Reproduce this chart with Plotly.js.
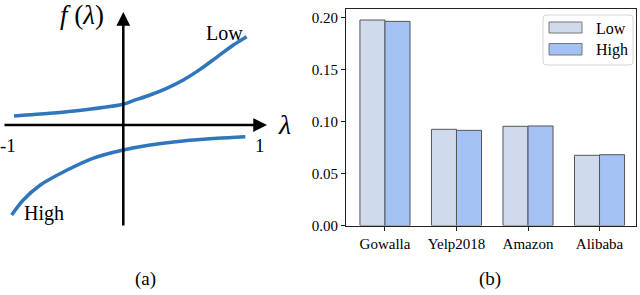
<!DOCTYPE html>
<html>
<head>
<meta charset="utf-8">
<script src="https://cdn.plot.ly/plotly-3.0.1.min.js"></script>
<style>html,body{margin:0;padding:0;background:#fff;}#chart{width:640px;height:295px;}</style>
</head>
<body>
<div id="chart"></div>
<script>
// ---- Panel (b) data ----
const datasets = ["Gowalla", "Yelp2018", "Amazon", "Alibaba"];
const seriesNames = ["Low", "High"];
const lowValues = [0.1976, 0.0925, 0.0954, 0.0675];
const highValues = [0.1963, 0.0915, 0.0957, 0.0681];
const yTickVals = [0.00, 0.05, 0.10, 0.15, 0.20];
const yTickText = ["0.00", "0.05", "0.10", "0.15", "0.20"];

// ---- Panel (a) schematic curves ----
const lowLambda = [-0.896, -0.601, -0.328, 0.0, 0.082, 0.219, 0.355, 0.492, 0.629, 0.765, 0.902, 1.011];
const lowF = [0.074, 0.096, 0.123, 0.170, 0.199, 0.246, 0.301, 0.369, 0.456, 0.555, 0.656, 0.724];
const highLambda = [-0.915, -0.82, -0.68, -0.46, -0.25, 0.0, 0.22, 0.49, 0.77, 1.0];
const highF = [-0.738, -0.615, -0.492, -0.369, -0.273, -0.205, -0.164, -0.131, -0.109, -0.096];
const curveLabels = ["Low", "High"];
const lambdaTickLabels = ["-1", "1"];
const captions = ["(a)", "(b)"];

const W = 640, H = 295;
const px = v => v / W;
const py = v => 1 - v / H;
const SERIF = "Liberation Serif";
const lowColor = "#cfdbec";
const highColor = "#a3c1f3";
const edgeColor = "#555555";
const curveColor = "#2f76bd";

const traces = [
  {type: "bar", x: datasets, y: lowValues, name: seriesNames[0], xaxis: "x", yaxis: "y",
   marker: {color: lowColor, line: {color: edgeColor, width: 1}}, showlegend: false},
  {type: "bar", x: datasets, y: highValues, name: seriesNames[1], xaxis: "x", yaxis: "y",
   marker: {color: highColor, line: {color: edgeColor, width: 1}}, showlegend: false},
  {type: "scatter", mode: "lines", x: lowLambda, y: lowF, xaxis: "x2", yaxis: "y2",
   line: {color: curveColor, width: 3.5, shape: "spline", smoothing: 0.8}, showlegend: false, name: curveLabels[0]},
  {type: "scatter", mode: "lines", x: highLambda, y: highF, xaxis: "x2", yaxis: "y2",
   line: {color: curveColor, width: 3.5, shape: "spline", smoothing: 0.8}, showlegend: false, name: curveLabels[1]}
];

// legend geometry (px)
const legBox = {x0: 543, x1: 633, y0: 15, y1: 65, r: 3};
const patchX0 = 549, patchX1 = 582;
const legRows = [{y0: 22, y1: 33, ty: 28, color: lowColor}, {y0: 43.5, y1: 55, ty: 50, color: highColor}];

function roundedRectPath(b) {
  const x0 = px(b.x0), x1 = px(b.x1), y0 = py(b.y0), y1 = py(b.y1);
  const rx = b.r / W, ry = b.r / H;
  return `M${x0 + rx},${y0} L${x1 - rx},${y0} Q${x1},${y0} ${x1},${y0 - ry} L${x1},${y1 + ry} Q${x1},${y1} ${x1 - rx},${y1} L${x0 + rx},${y1} Q${x0},${y1} ${x0},${y1 + ry} L${x0},${y0 - ry} Q${x0},${y0} ${x0 + rx},${y0} Z`;
}

const shapes = [
  {type: "path", xref: "paper", yref: "paper", path: roundedRectPath(legBox),
   line: {color: "#d4d4d4", width: 1}, fillcolor: "rgba(255,255,255,0.9)"}
];
const annotations = [];
legRows.forEach((r, i) => {
  shapes.push({type: "rect", xref: "paper", yref: "paper", x0: px(patchX0), x1: px(patchX1),
    y0: py(r.y1), y1: py(r.y0), fillcolor: r.color, line: {color: "#777", width: 1}});
  annotations.push({xref: "paper", yref: "paper", x: px(594), y: py(r.ty), xanchor: "left", yanchor: "middle",
    text: seriesNames[i], showarrow: false, font: {family: SERIF, size: 16, color: "#000"}});
});

// Panel (a) axes with arrows
annotations.push({xref: "x2", yref: "y2", axref: "x2", ayref: "y2", x: 1.178, y: 0, ax: -0.986, ay: 0,
  showarrow: true, arrowhead: 2, arrowsize: 1.1, arrowwidth: 2.5, arrowcolor: "#000", text: "", standoff: 0});
annotations.push({xref: "x2", yref: "y2", axref: "x2", ayref: "y2", x: 0, y: 0.926, ax: 0, ay: -0.836,
  showarrow: true, arrowhead: 2, arrowsize: 1.1, arrowwidth: 2.5, arrowcolor: "#000", text: "", standoff: 0});
// Panel (a) text
const txt = (x, y, text, size) => ({xref: "paper", yref: "paper", x: px(x), y: py(y), xanchor: "center", yanchor: "middle",
  text: text, showarrow: false, font: {family: SERIF, size: size, color: "#000"}});
annotations.push(txt(82, 15, "<i>f</i> (<i>λ</i>)", 27));
annotations.push(txt(284, 124, "<i>λ</i>", 28));
annotations.push(txt(224, 33, curveLabels[0], 20));
annotations.push(txt(44, 213, curveLabels[1], 20));
annotations.push(txt(8, 145, lambdaTickLabels[0], 19));
annotations.push(txt(260, 145, lambdaTickLabels[1], 19));
annotations.push(txt(145, 279, captions[0], 19));
annotations.push(txt(490, 279, captions[1], 19));

const tickFont = {family: SERIF, size: 15, color: "#000"};
const layout = {
  width: W, height: H,
  margin: {l: 0, r: 0, t: 0, b: 0, pad: 0},
  paper_bgcolor: "#fff", plot_bgcolor: "#fff",
  barmode: "group", bargap: 0.3, bargroupgap: 0,
  font: {family: SERIF, color: "#000"},
  xaxis: {domain: [px(346), px(636)], range: [-0.545, 3.51], type: "category",
    showline: true, mirror: true, linecolor: "#222", linewidth: 1,
    ticks: "outside", ticklen: 4, tickcolor: "#222", tickwidth: 1,
    showgrid: false, zeroline: false, tickfont: tickFont, anchor: "y"},
  yaxis: {domain: [py(225.5), py(9)], range: [0, 0.2082],
    tickvals: yTickVals, ticktext: yTickText,
    showline: true, mirror: true, linecolor: "#222", linewidth: 1,
    ticks: "outside", ticklen: 4, tickcolor: "#222", tickwidth: 1,
    showgrid: false, zeroline: false, tickfont: tickFont, anchor: "x"},
  xaxis2: {domain: [0, px(290)], range: [(0 - 123.3) / 122, (290 - 123.3) / 122], visible: false, anchor: "y2", fixedrange: true},
  yaxis2: {domain: [0, 1], range: [(125 - 295) / 122, 125 / 122], visible: false, anchor: "x2", fixedrange: true},
  shapes: shapes,
  annotations: annotations,
  showlegend: false
};

Plotly.newPlot("chart", traces, layout, {staticPlot: true, displayModeBar: false});
</script>
</body>
</html>
